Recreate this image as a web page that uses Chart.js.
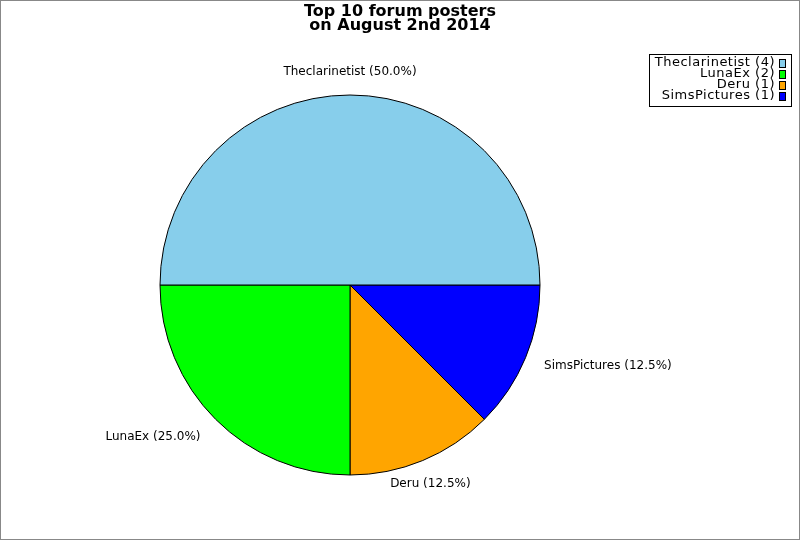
<!DOCTYPE html>
<html>
<head>
<meta charset="utf-8">
<script src="https://cdn.jsdelivr.net/npm/chart.js@4.4.1/dist/chart.umd.min.js"></script>
<style>
html,body{margin:0;padding:0;background:#fff;}
canvas{display:block;}
</style>
</head>
<body>
<canvas id="c" width="800" height="540"></canvas>
<script>
const titleLines = ["Top 10 forum posters", "on August 2nd 2014"];
const names = ["Theclarinetist", "LunaEx", "Deru", "SimsPictures"];
const counts = [4, 2, 1, 1];
const colors = ["#87CEEB", "#00FF00", "#FFA500", "#0000FF"];

// Drawn counter-clockwise in the reference: feed reversed order to a clockwise pie
const order = [3, 2, 1, 0];
const total = counts.reduce((a, b) => a + b, 0);

const FONT = "'DejaVu Sans', sans-serif";

const overlay = {
  id: 'overlay',
  afterDraw(chart) {
    const ctx = chart.ctx;
    ctx.save();
    // frame
    ctx.strokeStyle = '#888';
    ctx.lineWidth = 1;
    ctx.strokeRect(0.5, 0.5, 799, 539);

    // title
    ctx.fillStyle = '#000';
    ctx.font = "bold 16px " + FONT;
    ctx.textAlign = 'center';
    ctx.textBaseline = 'alphabetic';
    ctx.fillText(titleLines[0], 400, 16);
    ctx.fillText(titleLines[1], 400, 30);

    // slice labels
    const meta = chart.getDatasetMeta(0);
    ctx.font = "12px " + FONT;
    meta.data.forEach((arc, i) => {
      const idx = order[i];
      const mid = (arc.startAngle + arc.endAngle) / 2;
      const rr = arc.outerRadius + 20;
      const x = arc.x + rr * Math.cos(mid);
      const y = arc.y + rr * Math.sin(mid);
      const c = Math.cos(mid), s = Math.sin(mid);
      ctx.textAlign = Math.abs(c) < 0.5 ? 'center' : (c > 0 ? 'left' : 'right');
      ctx.textBaseline = s < -0.8 ? 'alphabetic' : (s > 0.8 ? 'top' : 'middle');
      const dy = s > 0.8 ? -1 : (s < -0.8 ? 0 : (s > 0.5 ? 3 : 1));
      const pct = (counts[idx] / total * 100).toFixed(1);
      ctx.fillText(names[idx] + " (" + pct + "%)", x - (c < -0.5 ? 1 : 0), y + dy);
    });

    // legend
    const lx = 649, ly = 54, lw = 143, lh = 53;
    ctx.fillStyle = '#fff';
    ctx.fillRect(lx, ly, lw, lh);
    ctx.strokeStyle = '#000';
    ctx.lineWidth = 1;
    ctx.strokeRect(lx + 0.5, ly + 0.5, lw - 1, lh - 1);
    ctx.font = "13px " + FONT;
    if ('letterSpacing' in ctx) ctx.letterSpacing = '0.5px';
    ctx.textAlign = 'right';
    ctx.textBaseline = 'middle';
    names.forEach((n, i) => {
      const cy = 63 + i * 11;
      ctx.fillStyle = '#000';
      ctx.fillText(n + " (" + counts[i] + ")", 775, cy);
      ctx.fillStyle = colors[i];
      ctx.fillRect(779, cy - 3, 7, 8);
      ctx.strokeStyle = '#000';
      ctx.strokeRect(779.5, cy - 3.5, 6, 8);
    });
    ctx.restore();
  }
};

new Chart(document.getElementById('c'), {
  type: 'pie',
  data: {
    labels: order.map(i => names[i]),
    datasets: [{
      data: order.map(i => counts[i]),
      backgroundColor: order.map(i => colors[i]),
      borderColor: '#000',
      borderWidth: 1
    }]
  },
  options: {
    responsive: false,
    animation: false,
    devicePixelRatio: 1,
    rotation: 90,
    radius: 190,
    layout: { padding: { left: 0, right: 100, top: 30, bottom: 0 } },
    plugins: {
      legend: { display: false },
      title: { display: false },
      tooltip: { enabled: false }
    }
  },
  plugins: [overlay]
});
</script>
</body>
</html>
